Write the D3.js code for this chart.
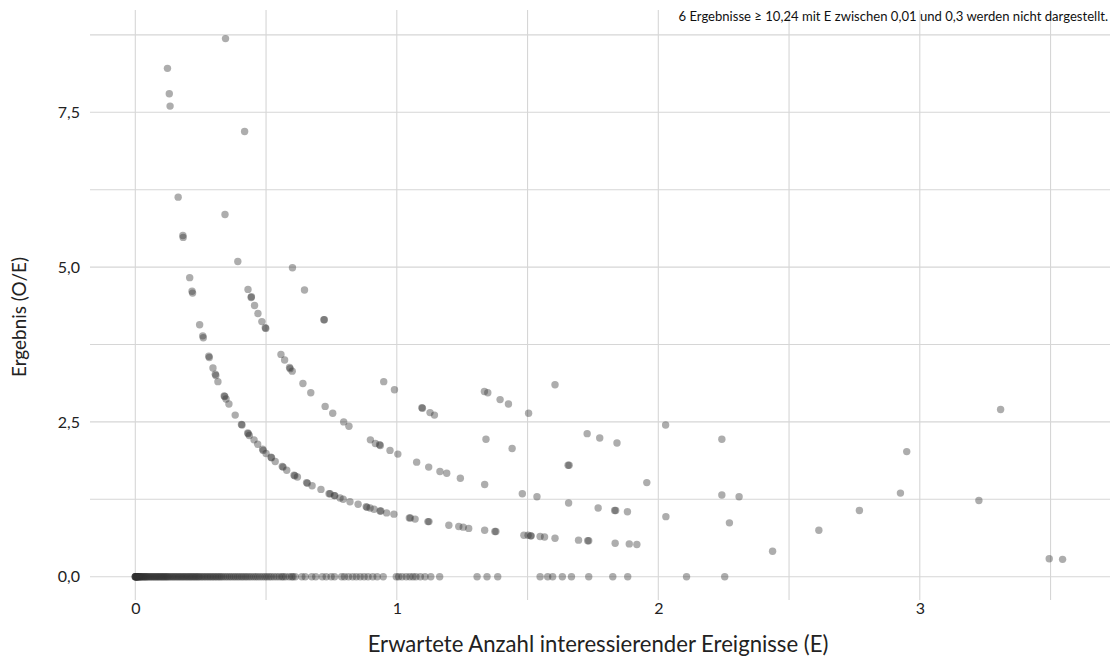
<!DOCTYPE html>
<html><head><meta charset="utf-8">
<script src="https://cdn.jsdelivr.net/npm/d3@7"></script>
<style>body{margin:0;background:#fff} svg{display:block}</style>
</head><body><svg id="c" width="1112" height="670"></svg>
<script>
// ---------- data ----------
const xTicks = [0, 1, 2, 3];
const xTickLabels = ["0", "1", "2", "3"];
const yTicks = [0, 2.5, 5, 7.5];
const yTickLabels = ["0,0", "2,5", "5,0", "7,5"];
const xMinor = [0.5, 1.5, 2.5, 3.5];
const yMinor = [1.25, 3.75, 6.25, 8.75];
const xTitle = "Erwartete Anzahl interessierender Ereignisse (E)";
const yTitle = "Ergebnis (O/E)";
const note = "6 Ergebnisse \u2265 10,24 mit E zwischen 0,01 und 0,3 werden nicht dargestellt.";

// expected counts E for results with O/E = 0
const zeroE = [0,0,0,0.001,0.002,0.003,0.004,0.005,0.006,0.007,0.008,0.009,0.01,0.012,0.014,0.016,0.018,0.02,0.022,0.025,0.028,0.031,0.034,0.037,0.04,0.043,0.046,0.05,0.054,0.058,0.062,0.066,0.07,0.074,0.078,0.082,0.086,0.09,0.094,0.098,0.102,0.106,0.11,0.114,0.118,0.122,0.126,0.131,0.136,0.141,0.146,0.151,0.156,0.161,0.166,0.171,0.176,0.181,0.186,0.191,0.196,0.201,0.206,0.211,0.216,0.221,0.226,0.231,0.236,0.241,0.246,0.252,0.258,0.264,0.27,0.276,0.282,0.288,0.294,0.3,0.306,0.312,0.318,0.324,0.33,0.337,0.345,0.352,0.36,0.367,0.375,0.382,0.39,0.397,0.405,0.412,0.42,0.427,0.435,0.443,0.452,0.46,0.468,0.477,0.486,0.495,0.503,0.512,0.52,0.53,0.54,0.55,0.56,0.566,0.575,0.588,0.598,0.603,0.612,0.637,0.65,0.675,0.69,0.715,0.73,0.749,0.762,0.789,0.8,0.815,0.831,0.845,0.86,0.875,0.89,0.908,0.925,0.948,0.998,1.007,1.02,1.036,1.05,1.062,1.073,1.09,1.108,1.13,1.164,1.307,1.345,1.386,1.548,1.577,1.596,1.633,1.668,1.734,1.826,1.883,2.108,2.254];

// results with O/E > 0: expected count E and ratio O/E
const posE = [
 0.123,0.130,0.133,0.164,0.182,0.183,0.208,0.217,0.219,0.246,0.258,0.260,0.281,0.283,0.297,0.306,0.308,0.316,0.340,0.342,0.347,0.358,0.382,0.406,0.408,0.430,0.432,0.436,0.454,0.468,0.487,0.489,0.500,0.519,0.521,0.535,0.562,0.565,0.579,0.607,0.610,0.620,0.655,0.658,0.676,0.710,0.741,0.745,0.761,0.763,0.783,0.795,0.821,0.852,0.883,0.886,0.898,0.913,0.936,0.939,0.961,0.989,1.048,1.052,1.070,1.119,1.123,1.199,1.237,1.254,1.275,1.336,1.375,1.379,1.486,1.502,1.512,1.514,1.548,1.565,1.605,1.695,1.730,1.734,1.835,1.889,1.918,2.437,3.495,3.546,
 0.343,0.392,0.431,0.443,0.444,0.456,0.469,0.484,0.497,0.499,0.557,0.571,0.590,0.592,0.600,0.641,0.671,0.726,0.755,0.797,0.817,0.899,0.918,0.934,0.937,0.974,1.004,1.076,1.122,1.165,1.191,1.243,1.336,1.480,1.536,1.657,1.770,1.833,1.837,1.882,2.029,2.272,2.614,
 0.345,0.418,0.601,0.647,0.721,0.723,0.950,0.991,1.096,1.098,1.127,1.144,1.341,1.441,1.655,1.659,1.956,2.243,2.309,2.769,
 1.335,1.348,1.395,1.427,1.504,1.728,1.776,1.842,2.926,3.226,
 1.605,2.028,2.243,2.950,3.309];
const posOE = [
 8.21,7.80,7.60,6.13,5.51,5.48,4.83,4.61,4.58,4.07,3.89,3.86,3.56,3.54,3.37,3.27,3.25,3.15,2.92,2.91,2.87,2.79,2.61,2.46,2.45,2.32,2.31,2.28,2.21,2.14,2.06,2.04,1.99,1.93,1.92,1.86,1.78,1.77,1.72,1.64,1.63,1.61,1.52,1.51,1.47,1.41,1.34,1.34,1.31,1.31,1.27,1.25,1.21,1.17,1.13,1.12,1.11,1.09,1.06,1.06,1.03,1.01,0.95,0.95,0.93,0.89,0.89,0.83,0.81,0.80,0.78,0.75,0.73,0.73,0.67,0.67,0.66,0.66,0.65,0.64,0.62,0.59,0.58,0.58,0.54,0.53,0.52,0.41,0.29,0.28,
 5.85,5.09,4.64,4.51,4.52,4.38,4.25,4.12,4.02,4.01,3.59,3.50,3.38,3.36,3.32,3.12,2.97,2.75,2.64,2.50,2.43,2.21,2.15,2.13,2.12,2.04,1.98,1.85,1.77,1.70,1.67,1.59,1.49,1.34,1.29,1.19,1.11,1.07,1.07,1.05,0.97,0.87,0.75,
 8.69,7.19,4.99,4.63,4.15,4.15,3.15,3.02,2.73,2.72,2.65,2.61,2.22,2.07,1.80,1.80,1.52,1.32,1.29,1.07,
 2.99,2.97,2.86,2.79,2.64,2.31,2.24,2.16,1.35,1.23,
 3.10,2.45,2.22,2.02,2.70];

// ---------- drawing ----------
const svg = d3.select("#c");
const FONT = "Lato, 'Open Sans', 'DejaVu Sans', sans-serif";
const panel = {l: 90, r: 1110, t: 10, b: 600};

// x: 0 -> 135.3px, 1 unit = 261.5px ; y: 0 -> 576.7px, 1 unit = 61.92px
const x = d3.scaleLinear()
  .domain([(panel.l - 135.3) / 261.5, (panel.r - 135.3) / 261.5])
  .range([panel.l, panel.r]);
const y = d3.scaleLinear()
  .domain([(576.7 - panel.b) / 61.92, (576.7 - panel.t) / 61.92])
  .range([panel.b, panel.t]);

const grid = svg.append("g").attr("stroke", "#d6d6d6").attr("stroke-width", 1.1);
grid.selectAll("line.hx").data(yTicks.concat(yMinor)).join("line")
  .attr("x1", panel.l).attr("x2", panel.r)
  .attr("y1", d => y(d)).attr("y2", d => y(d));
grid.selectAll("line.vx").data(xTicks.concat(xMinor)).join("line")
  .attr("y1", panel.t).attr("y2", panel.b)
  .attr("x1", d => x(d)).attr("x2", d => x(d));

// axes via d3 axis generators (no domain line, no ticks)
const xAxis = d3.axisBottom(x).tickValues(xTicks).tickFormat((d, i) => xTickLabels[i]).tickSize(0).tickPadding(0);
const gx = svg.append("g").attr("transform", `translate(0,${panel.b + 3})`).call(xAxis);
gx.select(".domain").remove();
gx.selectAll("text").attr("font-family", FONT).attr("font-size", 16).attr("fill", "#222").attr("dy", "0.71em");

const yAxis = d3.axisLeft(y).tickValues(yTicks).tickFormat((d, i) => yTickLabels[i]).tickSize(0).tickPadding(0);
const gy = svg.append("g").attr("transform", `translate(80,0)`).call(yAxis);
gy.select(".domain").remove();
gy.selectAll("text").attr("font-family", FONT).attr("font-size", 16).attr("fill", "#222");

// points
const pts = zeroE.map(e => ({e, r: 0})).concat(posE.map((e, i) => ({e, r: posOE[i]})));
svg.append("g").selectAll("circle").data(pts).join("circle")
  .attr("cx", d => x(d.e)).attr("cy", d => y(d.r)).attr("r", 3.7)
  .attr("fill", "#333").attr("fill-opacity", 0.4);

function fit(sel, target, base) {
  sel.attr("font-size", base);
  const len = sel.node().getComputedTextLength();
  if (len > 0) sel.attr("font-size", base * target / len);
}

const xt = svg.append("text").text(xTitle)
  .attr("x", 598).attr("y", 652).attr("text-anchor", "middle")
  .attr("font-family", FONT).attr("fill", "#222");
fit(xt, 461, 17);

const yt = svg.append("text").text(yTitle)
  .attr("transform", "translate(26,317) rotate(-90)").attr("text-anchor", "middle")
  .attr("font-family", FONT).attr("fill", "#222");
fit(yt, 120, 17);

const nt = svg.append("text").text(note)
  .attr("x", 1108).attr("y", 21).attr("text-anchor", "end")
  .attr("font-family", FONT).attr("fill", "#111");
fit(nt, 430, 11);
</script>
</body></html>
